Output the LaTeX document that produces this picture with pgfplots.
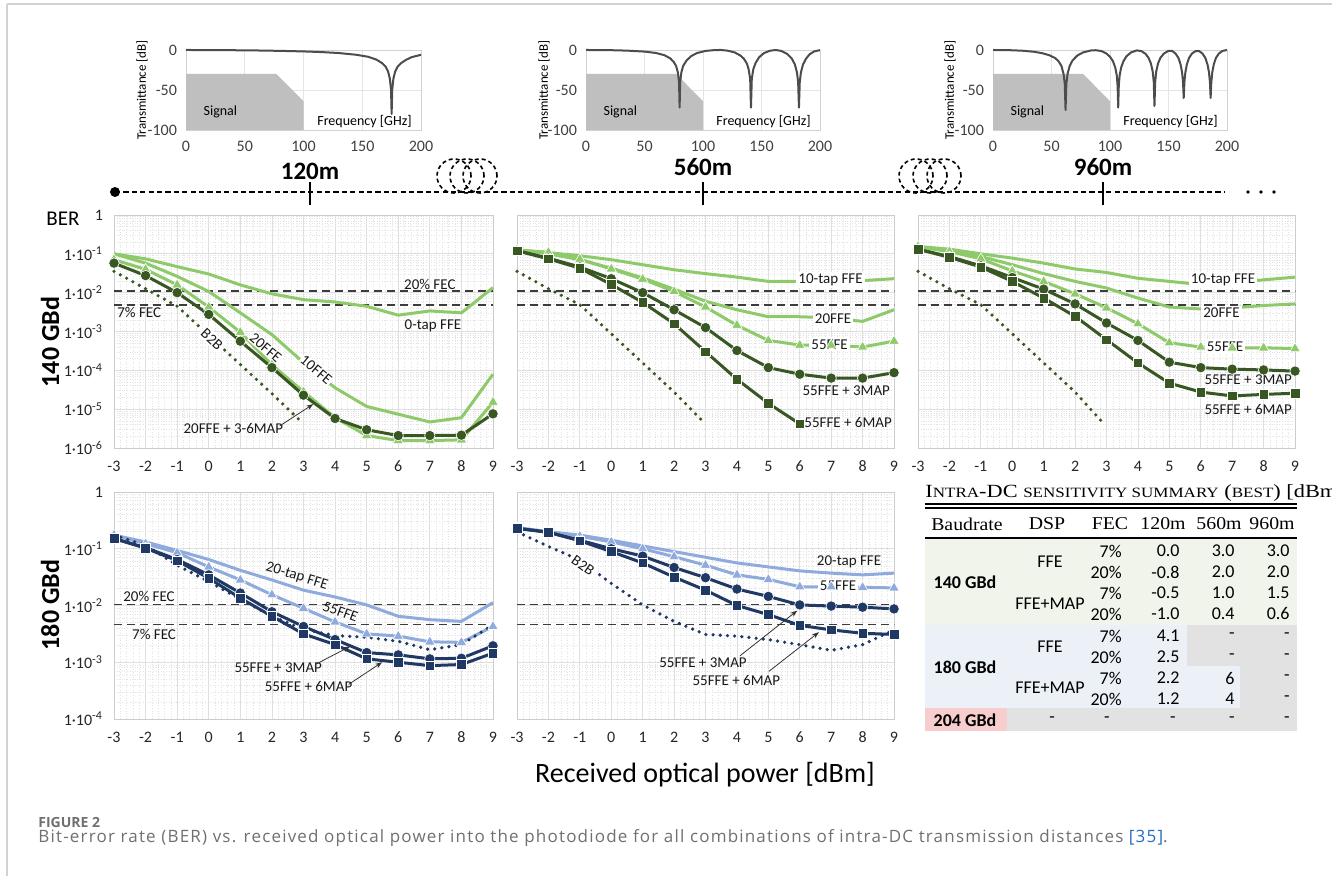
\documentclass[border=0pt]{standalone}
\usepackage{fontspec}
\setmainfont{Carlito}
\newfontfamily\serif{Liberation Serif}
\newfontfamily\capfont{Open Sans}
\newfontfamily\capfontsp[LetterSpace=7]{Open Sans}
\usepackage{graphicx}
\usepackage{pgfplots}
\pgfplotsset{compat=1.18}
\usetikzlibrary{arrows.meta}

\definecolor{lgreen}{RGB}{142,201,106}
\definecolor{dgreen}{RGB}{56,87,35}
\definecolor{lblue}{RGB}{143,170,220}
\definecolor{dblue}{RGB}{31,56,100}
\definecolor{fec}{RGB}{60,60,60}
\definecolor{tgreen}{RGB}{240,244,234}
\definecolor{tblue}{RGB}{236,241,248}
\definecolor{tgray}{RGB}{226,226,226}
\definecolor{tpink}{RGB}{248,205,205}
\definecolor{capgray}{RGB}{112,112,112}
\definecolor{linkblue}{RGB}{40,110,190}

\pgfplotsset{
  ber/.style={scale only axis, xmin=-3, xmax=9, xtick={-3,...,9}, minor x tick num=4,
    grid=both,
    major grid style={gray!25, line width=0.4pt},
    minor grid style={gray!22, line width=0.3pt, densely dotted},
    axis line style={gray!40}, tick style={draw=none},
    tick label style={font=\fontsize{8}{9}\selectfont, text=black!85},
    xticklabel style={yshift=-3pt}, yticklabel style={xshift=-2pt},
    /pgf/number format/assume math mode=true,
    every axis plot/.append style={line width=1.5pt, line join=round},
    clip=false},
  topy/.style={ymin=-6, ymax=0, ytick={-6,...,0},
    minor ytick={-5.699,-5.523,-5.398,-5.301,-5.222,-5.155,-5.097,-5.046,
      -4.699,-4.523,-4.398,-4.301,-4.222,-4.155,-4.097,-4.046,
      -3.699,-3.523,-3.398,-3.301,-3.222,-3.155,-3.097,-3.046,
      -2.699,-2.523,-2.398,-2.301,-2.222,-2.155,-2.097,-2.046,
      -1.699,-1.523,-1.398,-1.301,-1.222,-1.155,-1.097,-1.046,
      -0.699,-0.523,-0.398,-0.301,-0.222,-0.155,-0.097,-0.046}},
  boty/.style={ymin=-4, ymax=0, ytick={-4,...,0},
    minor ytick={-3.699,-3.523,-3.398,-3.301,-3.222,-3.155,-3.097,-3.046,
      -2.699,-2.523,-2.398,-2.301,-2.222,-2.155,-2.097,-2.046,
      -1.699,-1.523,-1.398,-1.301,-1.222,-1.155,-1.097,-1.046,
      -0.699,-0.523,-0.398,-0.301,-0.222,-0.155,-0.097,-0.046}},
  lg/.style={lgreen, no marks},
  lgt/.style={lgreen, mark=triangle*, mark size=3pt, mark options={fill=lgreen, draw=white, line width=0.3pt}},
  dgc/.style={dgreen, mark=*, mark size=2.6pt, mark options={fill=dgreen, draw=white, line width=0.3pt}},
  dgs/.style={dgreen, mark=square*, mark size=2.4pt, mark options={fill=dgreen, draw=white, line width=0.3pt}},
  gdot/.style={dgreen, line width=1.8pt, line cap=round, dash pattern=on 0pt off 3.6pt, no marks},
  lb/.style={lblue, no marks},
  lbt/.style={lblue, mark=triangle*, mark size=3pt, mark options={fill=lblue, draw=white, line width=0.3pt}},
  dbc/.style={dblue, mark=*, mark size=2.6pt, mark options={fill=dblue, draw=white, line width=0.3pt}},
  dbs/.style={dblue, mark=square*, mark size=2.4pt, mark options={fill=dblue, draw=white, line width=0.3pt}},
  bdot/.style={dblue, line width=1.8pt, line cap=round, dash pattern=on 0pt off 3.6pt, no marks},
  fecl/.style={fec, line width=0.7pt, dash pattern=on 4pt off 2.5pt, no marks},
  filt/.style={scale only axis, xmin=0, xmax=200, ymin=-100, ymax=0,
    xtick={0,50,100,150,200}, ytick={-100,-50,0}, grid=major,
    major grid style={gray!20, line width=0.4pt}, axis line style={gray!35},
    tick style={draw=none},
    tick label style={font=\fontsize{8}{9}\selectfont, text=black!75},
    xticklabel style={yshift=-2pt}, yticklabel style={xshift=-1pt},
    /pgf/number format/assume math mode=true, clip=false},
  fcurve/.style={black!70, line width=1pt, no marks, line join=round},
  sig/.style={fill=gray!50, draw=none, no marks},
}
\tikzset{
  ann/.style={font=\fontsize{7.5}{8}\selectfont, inner sep=1pt, text=black!90},
  arr/.style={-{Stealth[length=3.5pt,width=2.5pt]}, black!80, line width=0.4pt},
}

\begin{document}
\begin{tikzpicture}
\useasboundingbox (0,0) rectangle (666pt,438pt);
\fill[white] (0,0) rectangle (666pt,438pt);

% ---------------- filter plots ----------------
\begin{axis}[filt, at={(93pt,373pt)}, anchor=south west, width=117.5pt, height=40pt]
\addplot[sig] coordinates {(0,-30) (77,-30) (100,-64) (100,-100) (0,-100)} -- cycle;
\addplot[fcurve] coordinates {(0,0) (20,-0.1) (40,-0.3) (60,-0.6) (80,-1.1) (100,-1.8) (115,-2.6) (130,-3.8) (145,-6) (155,-8.5) (162,-12) (167,-16.5) (170,-21) (172,-27) (173.5,-36) (174.5,-50) (175,-80) (175.5,-50) (176.5,-36) (178,-27) (180,-21) (183,-16.5) (187,-12.5) (192,-9) (196,-7.5) (200,-6)};
\node[anchor=west, font=\fontsize{7}{8}\selectfont] at (axis cs:9,-77) {Signal};
\node[anchor=east, font=\fontsize{7}{8}\selectfont] at (axis cs:198,-89) {Frequency [GHz]};
\end{axis}

\begin{axis}[filt, at={(293pt,373pt)}, anchor=south west, width=117pt, height=40pt]
\addplot[sig] coordinates {(0,-30) (77,-30) (100,-64) (100,-100) (0,-100)} -- cycle;
\addplot[fcurve] coordinates {(0,0) (20,-0.2) (35,-0.8) (50,-2) (60,-3.8) (67,-6.5) (72,-10.5) (75,-15) (77,-20) (78.5,-28) (79.5,-40) (80,-72) (80.5,-40) (81.5,-28) (83,-20) (86,-13) (90,-7.5) (95,-3.8) (102,-1.2) (110,-0.1) (115,0) (121,-0.8) (127,-3) (132,-7) (135,-11) (137.5,-17) (139,-24) (140.3,-36) (141,-72) (141.7,-36) (143,-24) (145,-16) (148,-9) (152,-4) (157,-1) (162,0) (167,-1.2) (172,-5) (176,-11) (178.5,-18) (180.3,-28) (181.3,-40) (182,-72) (182.7,-40) (183.7,-28) (185.5,-18) (188,-11) (191,-5.5) (195,-1.8) (200,-0.2)};
\node[anchor=west, font=\fontsize{7}{8}\selectfont] at (axis cs:9,-77) {Signal};
\node[anchor=east, font=\fontsize{7}{8}\selectfont] at (axis cs:198,-89) {Frequency [GHz]};
\end{axis}

\begin{axis}[filt, at={(496.5pt,373pt)}, anchor=south west, width=117pt, height=40pt]
\addplot[sig] coordinates {(0,-30) (77,-30) (100,-64) (100,-100) (0,-100)} -- cycle;
\addplot[fcurve] coordinates {(0,0) (15,-0.3) (25,-0.9) (35,-2.2) (42,-4) (48,-6.5) (53,-10) (56,-14) (58.5,-20) (60.3,-30) (61.3,-42) (62,-75) (62.7,-42) (63.7,-30) (65.5,-20) (68,-13) (72,-7) (77,-3) (84,-0.5) (88,-0.3) (93,-1.5) (97,-4.5) (100,-8.5) (102.5,-14) (104.5,-22) (105.8,-32) (106.5,-45) (107,-72) (107.5,-45) (108.2,-32) (109.5,-22) (111.5,-14) (114,-8) (118,-3) (123,-0.5) (127,-1.5) (130.5,-5) (133,-10) (135,-17) (136.5,-27) (137.4,-40) (138,-70) (138.6,-40) (139.5,-27) (141,-17) (143,-10) (146,-4.5) (150,-1) (153,-1) (156,-4.5) (158.5,-10) (160.3,-18) (161.6,-28) (162.4,-40) (163,-60) (163.6,-40) (164.4,-28) (165.7,-18) (167.5,-10) (170,-4.5) (173,-1.5) (176,-1.2) (179,-4.5) (181.5,-10) (183.3,-18) (184.6,-28) (185.4,-40) (186,-60) (186.6,-40) (187.4,-28) (188.7,-18) (190.5,-10) (193,-4.5) (196,-1.2) (200,0)};
\node[anchor=west, font=\fontsize{7}{8}\selectfont] at (axis cs:9,-77) {Signal};
\node[anchor=east, font=\fontsize{7}{8}\selectfont] at (axis cs:198,-89) {Frequency [GHz]};
\end{axis}

% ---------------- 140 GBd, 120 m ----------------
\begin{axis}[ber, topy, at={(57pt,214pt)}, anchor=south west, width=189.5pt, height=116.5pt,
  yticklabels={1·10\textsuperscript{-6},1·10\textsuperscript{-5},1·10\textsuperscript{-4},1·10\textsuperscript{-3},1·10\textsuperscript{-2},1·10\textsuperscript{-1},1}]
\addplot[fecl] coordinates {(-3,-1.96) (9,-1.96)};
\addplot[fecl] coordinates {(-3,-2.32) (9,-2.32)};
\addplot[lg] coordinates {(-3,-1.0) (-2,-1.13) (-1,-1.33) (0,-1.52) (1,-1.8) (2,-2.03) (3,-2.18) (4,-2.24) (5,-2.35) (6,-2.58) (7,-2.47) (8,-2.52) (9,-1.87)};
\addplot[lg] coordinates {(-3,-1.0) (-2,-1.24) (-1,-1.58) (0,-1.97) (1,-2.52) (2,-3.08) (3,-3.8) (4,-4.45) (5,-4.93) (6,-5.13) (7,-5.33) (8,-5.22) (9,-4.1)};
\addplot[lgt] coordinates {(-3,-1.15) (-2,-1.4) (-1,-1.8) (0,-2.37) (1,-3.02) (2,-3.86) (3,-4.55) (4,-5.22) (5,-5.68) (6,-5.81) (7,-5.81) (8,-5.79) (9,-4.82)};
\addplot[dgc] coordinates {(-3,-1.24) (-2,-1.56) (-1,-2.0) (0,-2.56) (1,-3.25) (2,-3.93) (3,-4.64) (4,-5.24) (5,-5.53) (6,-5.68) (7,-5.68) (8,-5.67) (9,-5.12)};
\addplot[gdot] coordinates {(-3,-1.45) (-2,-1.9) (-1,-2.35) (0,-3.1) (1,-3.85) (2,-4.6) (2.9,-5.3)};
\node[ann] at (axis cs:7.0,-1.79) {20\% FEC};
\node[ann] at (axis cs:-2.2,-2.52) {7\% FEC};
\node[ann] at (axis cs:7.1,-2.85) {0-tap FFE};
\node[ann, fill=white, rotate=-43] at (axis cs:0.1,-3.2) {B2B};
\node[ann, fill=white, inner sep=0.5pt, rotate=-40] at (axis cs:1.8,-3.42) {20FFE};
\node[ann, fill=white, inner sep=0.5pt, rotate=-40] at (axis cs:3.4,-3.99) {10FFE};
\node[ann] at (axis cs:0.78,-5.51) {20FFE + 3-6MAP};
\draw[arr] (axis cs:2.25,-5.43) -- (axis cs:3.31,-4.87);
\end{axis}

% ---------------- 140 GBd, 560 m ----------------
\begin{axis}[ber, topy, at={(258.5pt,214pt)}, anchor=south west, width=188.5pt, height=116.5pt, yticklabels={}]
\addplot[fecl] coordinates {(-3,-1.96) (9,-1.96)};
\addplot[fecl] coordinates {(-3,-2.32) (9,-2.32)};
\addplot[lg] coordinates {(-3,-0.9) (-2,-0.97) (-1,-1.05) (0,-1.15) (1,-1.28) (2,-1.41) (3,-1.51) (4,-1.6) (5,-1.71) (6,-1.71) (7,-1.71) (8,-1.69) (9,-1.64)};
\addplot[lg] coordinates {(-3,-0.9) (-2,-1.0) (-1,-1.15) (0,-1.37) (1,-1.62) (2,-1.91) (3,-2.22) (4,-2.44) (5,-2.62) (6,-2.62) (7,-2.65) (8,-2.74) (9,-2.44)};
\addplot[lgt] coordinates {(-3,-0.9) (-2,-0.96) (-1,-1.14) (0,-1.39) (1,-1.65) (2,-1.97) (3,-2.37) (4,-2.84) (5,-3.23) (6,-3.35) (7,-3.35) (8,-3.4) (9,-3.25)};
\addplot[dgc] coordinates {(-3,-0.92) (-2,-1.11) (-1,-1.34) (0,-1.64) (1,-2.0) (2,-2.44) (3,-2.9) (4,-3.49) (5,-3.93) (6,-4.1) (7,-4.2) (8,-4.2) (9,-4.06)};
\addplot[dgs] coordinates {(-3,-0.92) (-2,-1.13) (-1,-1.37) (0,-1.79) (1,-2.25) (2,-2.8) (3,-3.52) (4,-4.23) (5,-4.85) (6,-5.38)};
\addplot[gdot] coordinates {(-3,-1.45) (-2,-1.9) (-1,-2.31) (0,-3.06) (1,-3.81) (2,-4.56) (2.9,-5.3)};
\node[ann, fill=white] at (axis cs:6.98,-1.68) {10-tap FFE};
\node[ann, fill=white] at (axis cs:7.06,-2.67) {20FFE};
\node[ann, fill=white] at (axis cs:6.95,-3.33) {55FFE};
\node[ann] at (axis cs:7.48,-4.53) {55FFE + 3MAP};
\node[ann] at (axis cs:7.54,-5.34) {55FFE + 6MAP};
\end{axis}

% ---------------- 140 GBd, 960 m ----------------
\begin{axis}[ber, topy, at={(459pt,214pt)}, anchor=south west, width=188.5pt, height=116.5pt, yticklabels={}]
\addplot[fecl] coordinates {(-3,-1.96) (9,-1.96)};
\addplot[fecl] coordinates {(-3,-2.32) (9,-2.32)};
\addplot[lg] coordinates {(-3,-0.81) (-2,-0.88) (-1,-1.0) (0,-1.11) (1,-1.24) (2,-1.39) (3,-1.48) (4,-1.63) (5,-1.71) (6,-1.79) (7,-1.75) (8,-1.67) (9,-1.6)};
\addplot[lg] coordinates {(-3,-0.81) (-2,-0.94) (-1,-1.07) (0,-1.28) (1,-1.51) (2,-1.71) (3,-1.88) (4,-2.14) (5,-2.37) (6,-2.42) (7,-2.39) (8,-2.33) (9,-2.29)};
\addplot[lgt] coordinates {(-3,-0.81) (-2,-0.94) (-1,-1.13) (0,-1.44) (1,-1.71) (2,-2.03) (3,-2.39) (4,-2.8) (5,-3.29) (6,-3.4) (7,-3.42) (8,-3.42) (9,-3.44)};
\addplot[dgc] coordinates {(-3,-0.88) (-2,-1.07) (-1,-1.31) (0,-1.61) (1,-1.91) (2,-2.29) (3,-2.78) (4,-3.23) (5,-3.79) (6,-3.93) (7,-3.97) (8,-3.99) (9,-4.02)};
\addplot[dgs] coordinates {(-3,-0.88) (-2,-1.09) (-1,-1.34) (0,-1.71) (1,-2.14) (2,-2.61) (3,-3.21) (4,-3.81) (5,-4.33) (6,-4.56) (7,-4.66) (8,-4.62) (9,-4.59)};
\addplot[gdot] coordinates {(-3,-1.45) (-2,-1.9) (-1,-2.31) (0,-3.06) (1,-3.81) (2,-4.56) (2.85,-5.32)};
\node[ann, fill=white] at (axis cs:6.71,-1.67) {10-tap FFE};
\node[ann, fill=white] at (axis cs:6.66,-2.52) {20FFE};
\node[ann, fill=white] at (axis cs:6.77,-3.38) {55FFE};
\node[ann] at (axis cs:7.51,-4.23) {55FFE + 3MAP};
\node[ann] at (axis cs:7.51,-5.02) {55FFE + 6MAP};
\end{axis}

% ---------------- 180 GBd, 120 m ----------------
\begin{axis}[ber, boty, at={(57pt,78.5pt)}, anchor=south west, width=189.5pt, height=113.5pt,
  yticklabels={1·10\textsuperscript{-4},1·10\textsuperscript{-3},1·10\textsuperscript{-2},1·10\textsuperscript{-1},1}]
\addplot[fecl] coordinates {(-3,-1.98) (9,-1.98)};
\addplot[fecl] coordinates {(-3,-2.34) (9,-2.34)};
\addplot[lb] coordinates {(-3,-0.76) (-2,-0.88) (-1,-1.03) (0,-1.19) (1,-1.38) (2,-1.55) (3,-1.73) (4,-1.85) (5,-1.99) (6,-2.19) (7,-2.25) (8,-2.28) (9,-1.95)};
\addplot[lbt] coordinates {(-3,-0.76) (-2,-0.91) (-1,-1.07) (0,-1.32) (1,-1.55) (2,-1.81) (3,-2.05) (4,-2.29) (5,-2.5) (6,-2.54) (7,-2.64) (8,-2.65) (9,-2.37)};
\addplot[bdot] coordinates {(-3,-0.76) (-2,-0.94) (-1,-1.29) (0,-1.58) (1,-1.89) (2,-2.19) (3,-2.42) (4,-2.53) (5,-2.56) (6,-2.63) (7,-2.78) (8,-2.69) (9,-2.34)};
\addplot[dbc] coordinates {(-3,-0.82) (-2,-0.98) (-1,-1.19) (0,-1.46) (1,-1.78) (2,-2.11) (3,-2.37) (4,-2.6) (5,-2.83) (6,-2.87) (7,-2.94) (8,-2.93) (9,-2.71)};
\addplot[dbs] coordinates {(-3,-0.82) (-2,-0.99) (-1,-1.21) (0,-1.52) (1,-1.87) (2,-2.19) (3,-2.5) (4,-2.69) (5,-2.94) (6,-3.0) (7,-3.06) (8,-3.04) (9,-2.84)};
\node[ann] at (axis cs:-1.89,-1.84) {20\% FEC};
\node[ann] at (axis cs:-1.73,-2.51) {7\% FEC};
\node[ann, rotate=-17] at (axis cs:2.79,-1.49) {20-tap FFE};
\node[ann, rotate=-20] at (axis cs:4.17,-2.11) {55FFE};
\node[ann] at (axis cs:2.2,-3.1) {55FFE + 3MAP};
\draw[arr] (axis cs:3.37,-3.04) -- (axis cs:4.48,-2.72);
\node[ann] at (axis cs:3.16,-3.43) {55FFE + 6MAP};
\draw[arr] (axis cs:4.43,-3.39) -- (axis cs:5.49,-3.0);
\end{axis}

% ---------------- 180 GBd, 560 m ----------------
\begin{axis}[ber, boty, at={(258.5pt,78.5pt)}, anchor=south west, width=188.5pt, height=113.5pt, yticklabels={}]
\addplot[fecl] coordinates {(-3,-1.98) (9,-1.98)};
\addplot[fecl] coordinates {(-3,-2.34) (9,-2.34)};
\addplot[lb] coordinates {(-3,-0.63) (-2,-0.7) (-1,-0.76) (0,-0.85) (1,-0.95) (2,-1.05) (3,-1.15) (4,-1.25) (5,-1.32) (6,-1.39) (7,-1.43) (8,-1.46) (9,-1.43)};
\addplot[lbt] coordinates {(-3,-0.63) (-2,-0.7) (-1,-0.78) (0,-0.88) (1,-1.0) (2,-1.14) (3,-1.29) (4,-1.46) (5,-1.54) (6,-1.67) (7,-1.67) (8,-1.68) (9,-1.69)};
\addplot[bdot] coordinates {(-3,-0.7) (-2,-0.96) (-1,-1.2) (0,-1.61) (1,-1.99) (2,-2.28) (3,-2.51) (4,-2.54) (5,-2.6) (6,-2.69) (7,-2.79) (8,-2.69) (9,-2.43)};
\addplot[dbc] coordinates {(-3,-0.64) (-2,-0.71) (-1,-0.85) (0,-1.0) (1,-1.13) (2,-1.33) (3,-1.51) (4,-1.71) (5,-1.84) (6,-1.99) (7,-2.01) (8,-2.03) (9,-2.06)};
\addplot[dbs] coordinates {(-3,-0.64) (-2,-0.71) (-1,-0.86) (0,-1.05) (1,-1.25) (2,-1.5) (3,-1.73) (4,-2.0) (5,-2.16) (6,-2.35) (7,-2.43) (8,-2.49) (9,-2.51)};
\node[ann] at (axis cs:7.57,-1.23) {20-tap FFE};
\node[ann, fill=white] at (axis cs:7.22,-1.65) {55FFE};
\node[ann, fill=white, rotate=-35] at (axis cs:-0.9,-1.29) {B2B};
\node[ann] at (axis cs:2.92,-3.01) {55FFE + 3MAP};
\draw[arr] (axis cs:4.09,-2.89) -- (axis cs:5.92,-2.09);
\node[ann] at (axis cs:3.98,-3.33) {55FFE + 6MAP};
\draw[arr] (axis cs:5.02,-3.16) -- (axis cs:6.61,-2.47);
\end{axis}

% ---------------- decorations and table (pixel coordinates) ----------------
\begin{scope}[shift={(0pt,438pt)}, x=0.5pt, y=-0.5pt]
\draw[gray!35, line width=0.6pt] (7,4) -- (7,880);
\draw[gray!35, line width=0.6pt] (7,4) -- (1340,4);
% filter y labels
\node[rotate=90, font=\fontsize{6.5}{7}\selectfont] at (142,90) {Transmittance [dB]};
\node[rotate=90, font=\fontsize{6.5}{7}\selectfont] at (544,90) {Transmittance [dB]};
\node[rotate=90, font=\fontsize{6.5}{7}\selectfont] at (950,90) {Transmittance [dB]};
% distance line
\draw[line width=1pt, dash pattern=on 2.6pt off 1.6pt] (115,192) -- (1225,192);
\fill (115,192) circle (2.5pt);
\foreach \xx in {1248,1261,1274} \fill (\xx,192) circle (0.9pt);
\foreach \xx in {310,703,1103} \draw[line width=1pt] (\xx,182) -- (\xx,205);
\foreach \xx in {454,467,480,916,930,944} \draw[line width=0.8pt, dash pattern=on 2pt off 1.5pt] (\xx,176) circle (8.5pt);
\node[font=\bfseries\fontsize{12.5}{13}\selectfont] at (310,171) {120m};
\node[font=\bfseries\fontsize{12.5}{13}\selectfont] at (703,167) {560m};
\node[font=\bfseries\fontsize{12.5}{13}\selectfont] at (1103,167) {960m};
% labels
\node[font=\fontsize{10.5}{11}\selectfont] at (63,219) {BER};
\node[rotate=90, font=\bfseries\fontsize{13}{14}\selectfont] at (50,342) {140 GBd};
\node[rotate=90, font=\bfseries\fontsize{13}{14}\selectfont] at (50,605) {180 GBd};
\node[font=\fontsize{14}{15}\selectfont] at (705,775) {Received optical power [dBm]};
% table backgrounds
\fill[tgreen] (925,539) rectangle (1297,625);
\fill[tblue] (925,625) rectangle (1297,708);
\fill[tgray] (1187,625) rectangle (1297,666);
\fill[tgray] (1240,666) rectangle (1297,708);
\fill[tpink] (925,708) rectangle (1007,731);
\fill[tgray] (1007,708) rectangle (1297,731);
\draw[line width=0.6pt] (925,504) -- (1297,504);
\draw[line width=0.6pt] (925,508) -- (1297,508);
\draw[line width=1pt] (925,538) -- (1297,538);
\node[anchor=west, inner sep=0pt] at (925,493) {\serif\scalebox{1.2}[1]{\fontsize{9.3}{10}\selectfont I{\fontsize{7.1}{8}\selectfont NTRA}-DC {\fontsize{7.1}{8}\selectfont SENSITIVITY SUMMARY} ({\fontsize{7.1}{8}\selectfont BEST}) [dBm]}};
\foreach \xx/\tt in {967/Baudrate,1047/DSP,1110/FEC,1163/120m,1219/560m,1272/960m}
  \node[font=\serif\fontsize{9}{10}\selectfont, inner sep=0pt] at (\xx,524) {\scalebox{1.1}[1]{\tt}};
% table body
\tikzset{tb/.style={font=\fontsize{9}{10}\selectfont, inner sep=0pt}}
\node[tb, font=\bfseries\fontsize{9}{10}\selectfont] at (965,582) {140 GBd};
\node[tb] at (1050,562) {FFE};
\node[tb] at (1050,604) {FFE+MAP};
\node[tb, font=\bfseries\fontsize{9}{10}\selectfont] at (965,667) {180 GBd};
\node[tb] at (1050,647) {FFE};
\node[tb] at (1050,688) {FFE+MAP};
\node[tb, font=\bfseries\fontsize{9}{10}\selectfont] at (965,720) {204 GBd};
\foreach \yy/\a/\b/\c/\d in {551/7\%/0.0/3.0/3.0, 572/20\%/-0.8/2.0/2.0, 593/7\%/-0.5/1.0/1.5, 614/20\%/-1.0/0.4/0.6, 636/7\%/4.1/-/-, 657/20\%/2.5/-/-, 678/7\%/2.2/6/-, 699/20\%/1.2/4/-}{
  \node[tb, anchor=east] at (1122,\yy) {\a};
  \node[tb, anchor=east] at (1180,\yy) {\b};
  \node[tb, anchor=east] at (1235,\yy) {\c};
  \node[tb, anchor=east] at (1290,\yy) {\d};
}
\node[tb] at (1052,720) {-};
\node[tb, anchor=east] at (1110,720) {-};
\node[tb, anchor=east] at (1176,720) {-};
\node[tb, anchor=east] at (1235,720) {-};
\node[tb, anchor=east] at (1290,720) {-};
% caption
\node[anchor=west, inner sep=0pt, text=capgray, font=\capfont\bfseries\fontsize{7}{8}\selectfont] at (38,823) {FIGURE 2};
\node[anchor=west, inner sep=0pt, text=capgray, font=\capfontsp\fontsize{8.5}{9}\selectfont] at (38,838) {Bit-error rate (BER) vs. received optical power into the photodiode for all combinations of intra-DC transmission distances \textcolor{linkblue}{[35]}.};
\end{scope}
\end{tikzpicture}
\end{document}
